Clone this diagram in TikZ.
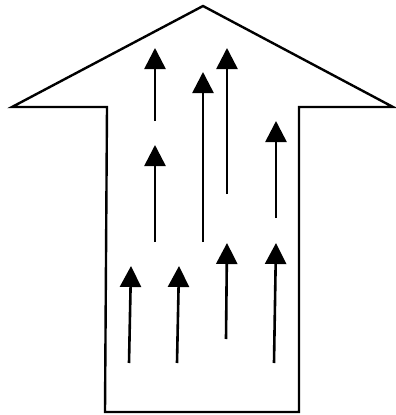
\documentclass[tikz,border=0pt]{standalone}
\usetikzlibrary{arrows.meta}
\begin{document}
\begin{tikzpicture}[x=1pt,y=-1pt,
  outline/.style={draw=black,line width=2.4pt,line join=miter},
  flow/.style={draw=black,line width=2.6pt,-{Triangle[width=21pt,length=21pt]}}]
\useasboundingbox (0,0) rectangle (396,415);
% outline of the large block arrow
\coordinate (bl) at (105,412);
\coordinate (sl) at (107,107);
\coordinate (wl) at (12,107);
\coordinate (tp) at (203,6);
\coordinate (wr) at (393,107);
\coordinate (sr) at (299,107);
\coordinate (br) at (299,412);
\draw[outline] (bl) -- (sl) -- (wl) -- (tp) -- (wr) -- (sr) -- (br) -- cycle;
% small flow arrows: tail / head pairs
\coordinate (t1) at (155,121); \coordinate (h1) at (155,48);
\coordinate (t2) at (203,242); \coordinate (h2) at (203,72);
\coordinate (t3) at (227,194); \coordinate (h3) at (227,48);
\coordinate (t4) at (155,242); \coordinate (h4) at (155,145);
\coordinate (t5) at (276,218); \coordinate (h5) at (276,121);
\coordinate (t6) at (129,363); \coordinate (h6) at (131,266);
\coordinate (t7) at (177,363); \coordinate (h7) at (179,266);
\coordinate (t8) at (226,339); \coordinate (h8) at (227,243);
\coordinate (t9) at (274,363); \coordinate (h9) at (276,243);
\foreach \i in {1,...,9} \draw[flow] (t\i) -- (h\i);
\end{tikzpicture}
\end{document}
